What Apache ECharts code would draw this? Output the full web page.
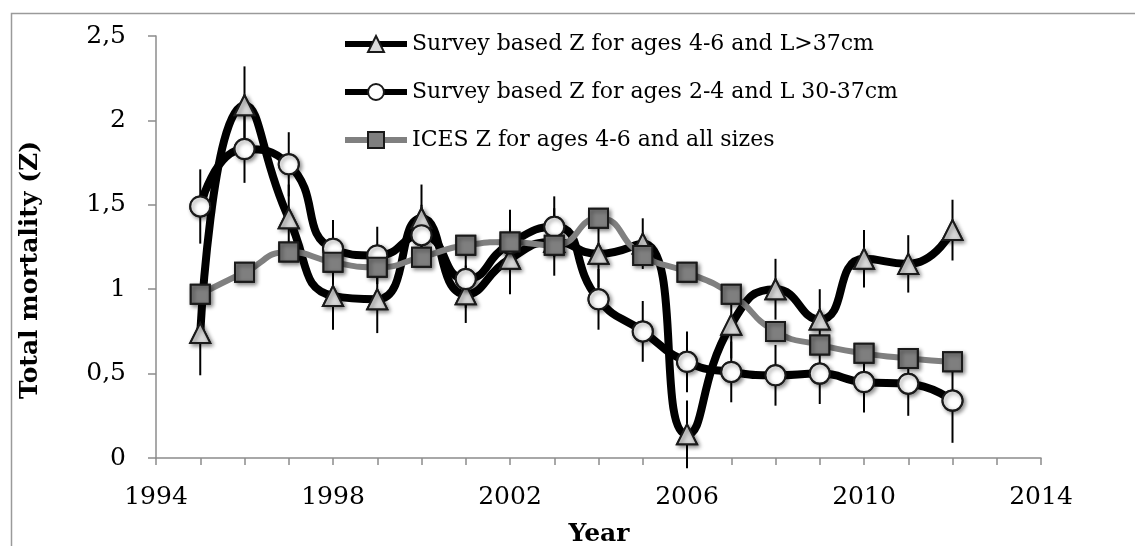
<!DOCTYPE html>
<html>
<head>
<meta charset="utf-8">
<script src="https://cdn.jsdelivr.net/npm/echarts@6/dist/echarts.min.js"></script>
<style>
html,body{margin:0;padding:0;background:#fff;}
#chart{width:1135px;height:546px;}
</style>
</head>
<body>
<div id="chart"></div>
<script>
const years = [1995,1996,1997,1998,1999,2000,2001,2002,2003,2004,2005,2006,2007,2008,2009,2010,2011,2012];
const zLarge = [0.74,2.09,1.42,0.96,0.94,1.42,0.97,1.18,1.28,1.21,1.27,0.14,0.79,1.00,0.82,1.18,1.15,1.35];
const zLargeErr = [0.25,0.23,0.20,0.20,0.20,0.20,0.17,0.21,0.20,0.20,0.15,0.20,0.20,0.18,0.18,0.17,0.17,0.18];
const zSmall = [1.49,1.83,1.74,1.24,1.20,1.32,1.06,1.27,1.37,0.94,0.75,0.57,0.51,0.49,0.50,0.45,0.44,0.34];
const zSmallErr = [0.22,0.20,0.19,0.17,0.17,0.18,0.17,0.20,0.18,0.18,0.18,0.18,0.18,0.18,0.18,0.18,0.19,0.25];
const zIces = [0.97,1.10,1.22,1.16,1.13,1.19,1.26,1.28,1.26,1.42,1.20,1.10,0.97,0.75,0.67,0.62,0.59,0.57];
const names = ['Survey based Z for ages 4-6 and L>37cm','Survey based Z for ages 2-4 and L 30-37cm','ICES Z for ages 4-6 and all sizes'];
const xTicks = [1994,1998,2002,2006,2010,2014];
const yTitle = 'Total mortality (Z)';
const xTitle = 'Year';

const FONT = 'DejaVu Serif';
const pairs = (ys) => years.map((y,i)=>[y, ys[i]]);
const errData = (ys, es) => years.map((y,i)=>[y, ys[i]-es[i], ys[i]+es[i]]);

const shadow = {shadowBlur:4, shadowColor:'rgba(0,0,0,0.45)', shadowOffsetX:2, shadowOffsetY:2};

function errSeries(ys, es){
  return {
    type:'custom', z:2, silent:true, legendHoverLink:false,
    data: errData(ys, es),
    renderItem: function(params, api){
      const a = api.coord([api.value(0), api.value(1)]);
      const b = api.coord([api.value(0), api.value(2)]);
      return {type:'line', shape:{x1:a[0],y1:a[1],x2:b[0],y2:b[1]}, style:{stroke:'#000', lineWidth:2}};
    }
  };
}

const styles = [
  {color:'#000', lw:8, symbol:'triangle', size:20, fill:'#d9d9d9'},
  {color:'#000', lw:8, symbol:'circle', size:20, fill:'#ffffff'},
  {color:'#808080', lw:6, symbol:'rect', size:19, fill:'#7f7f7f'}
];
const datas = [zLarge, zSmall, zIces];

const series = [];
datas.forEach((d,i)=>{
  const s = styles[i];
  series.push({
    name:names[i], type:'line', data:pairs(d), smooth:0.55, z:1,
    symbol:s.symbol, symbolSize:s.size, showSymbol:true,
    lineStyle:{color:s.color, width:s.lw},
    itemStyle:{color:s.fill, borderColor:'#1a1a1a', borderWidth:2},
    emphasis:{disabled:true}, animation:false
  });
});
series.push(errSeries(zLarge, zLargeErr));
series.push(errSeries(zSmall, zSmallErr));
datas.forEach((d,i)=>{
  const s = styles[i];
  series.push({
    name:names[i], type:'scatter', data:pairs(d), z:3+i,
    symbol:s.symbol, symbolSize:s.size,
    itemStyle:Object.assign({color:s.fill, borderColor:'#1a1a1a', borderWidth:2, opacity:1}, shadow),
    emphasis:{disabled:true}, animation:false
  });
});

const chart = echarts.init(document.getElementById('chart'));
chart.setOption({
  backgroundColor:'#fff',
  animation:false,
  graphic:[
    {type:'rect', left:9, top:11, shape:{width:1200, height:600}, style:{fill:'none', stroke:'#9a9a9a', lineWidth:1.5}, z:0},
    {type:'text', x:30, y:270, rotation:Math.PI/2, z:10,
      style:{text:yTitle, fontFamily:FONT, fontSize:25, fontWeight:'bold', fill:'#000', align:'center', verticalAlign:'middle'}},
    {type:'text', x:599, y:534, z:10,
      style:{text:xTitle, fontFamily:FONT, fontSize:25, fontWeight:'bold', fill:'#000', align:'center', verticalAlign:'middle'}}
  ],
  grid:{left:156, right:94, top:36, bottom:88},
  legend:{
    data:names, orient:'vertical', left:337, top:25, itemWidth:62, itemHeight:20, itemGap:20,
    textStyle:{fontFamily:FONT, fontSize:22, color:'#000', lineHeight:28},
    lineStyle:{width:6}, selectedMode:false
  },
  xAxis:{
    type:'value', min:1994, max:2014, interval:4,
    axisLine:{lineStyle:{color:'#8c8c8c', width:1.5}},
    axisTick:{show:true, inside:false, length:7, lineStyle:{color:'#8c8c8c', width:1.5}},
    minorTick:{show:true, splitNumber:4, length:7, lineStyle:{color:'#8c8c8c', width:1.5}},
    splitLine:{show:false},
    axisLabel:{fontFamily:FONT, fontSize:25, color:'#000', margin:27,
      formatter:(v)=> xTicks.includes(v) ? String(v) : ''}
  },
  yAxis:{
    type:'value', min:0, max:2.5, interval:0.5,
    axisLine:{show:true, lineStyle:{color:'#8c8c8c', width:1.5}},
    axisTick:{show:true, inside:false, length:8, lineStyle:{color:'#8c8c8c', width:1.5}},
    splitLine:{show:false},
    axisLabel:{fontFamily:FONT, fontSize:25, color:'#000', margin:30,
      formatter:(v)=> String(+v.toFixed(1)).replace('.', ',')}
  },
  series: series
});
</script>
</body>
</html>
